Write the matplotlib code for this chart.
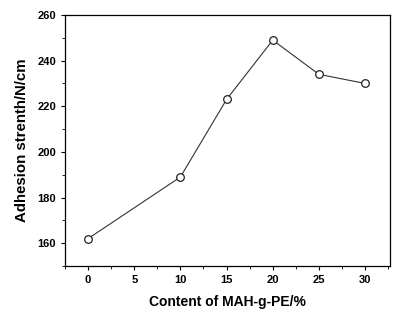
import numpy as np
import matplotlib.pyplot as plt
from matplotlib.ticker import MultipleLocator

plt.rcParams['font.family'] = ['Liberation Sans', 'DejaVu Sans']

content = [0, 10, 15, 20, 25, 30]
strength = [162, 189, 223, 249, 234, 230]

fig = plt.figure(figsize=(3.99, 3.16), dpi=100)
ax = fig.add_axes([65/399, 50/316, 325/399, 251/316])

ax.plot(content, strength, color='#333333', lw=0.8, marker='o', ms=5.5,
        mfc='white', mec='#222222', mew=0.9)

ax.set_xlim(-2.5, 32.7)
ax.set_ylim(150, 260)
ax.xaxis.set_major_locator(MultipleLocator(5))
ax.xaxis.set_minor_locator(MultipleLocator(2.5))
ax.yaxis.set_major_locator(MultipleLocator(20))
ax.yaxis.set_minor_locator(MultipleLocator(10))
ax.tick_params(which='major', direction='out', length=3, width=0.8, labelsize=8)
ax.tick_params(which='minor', direction='out', length=2, width=0.6)
for lab in ax.get_xticklabels() + ax.get_yticklabels():
    lab.set_fontweight('bold')
for s in ax.spines.values():
    s.set_linewidth(0.9)

ax.set_xlabel('Content of MAH-g-PE/%', fontsize=10, fontweight='bold', labelpad=7)
ax.set_ylabel('Adhesion strenth/N/cm', fontsize=10.8, fontweight='bold', labelpad=6)

fig.savefig('out.png', dpi=100)
